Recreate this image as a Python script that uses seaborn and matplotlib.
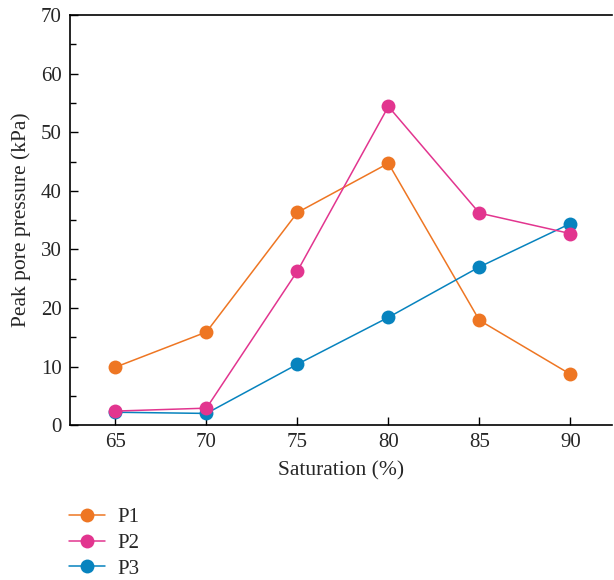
import matplotlib
matplotlib.use("Agg")
import matplotlib.pyplot as plt
from matplotlib.colors import to_hex
from matplotlib.ticker import MultipleLocator
import seaborn as sns
import pandas as pd

saturation = [65, 70, 75, 80, 85, 90]
p1 = [9.9, 15.9, 36.3, 44.7, 17.9, 8.7]
p2 = [2.4, 2.9, 26.3, 54.4, 36.2, 32.7]
p3 = [2.2, 2.0, 10.4, 18.4, 27.0, 34.4]
series_names = ["P1", "P2", "P3"]
colors = ["#EE7623", "#E2358F", "#0783BE"]

df = pd.DataFrame({
    "Saturation": saturation * 3,
    "Pressure": p1 + p2 + p3,
    "Series": [n for n in series_names for _ in saturation],
})

sns.set_style("ticks")
plt.rcParams["font.family"] = ["Liberation Serif", "DejaVu Serif"]

fig = plt.figure(figsize=(6.14, 5.8), dpi=100)
ax = fig.add_axes([0.114, 0.267, 0.883, 0.707])

sns.lineplot(data=df, x="Saturation", y="Pressure", hue="Series",
             palette=colors, marker="o", markersize=10, markeredgewidth=0,
             linewidth=1.1, ax=ax, legend=True)

# stacking: P1 lowest, then P3, with P2 on top where markers overlap
layer = {colors[0].lower(): 2.1, colors[2].lower(): 2.2, colors[1].lower(): 2.3}
for line in ax.lines:
    key = to_hex(line.get_color()).lower()
    if key in layer:
        line.set_zorder(layer[key])

ax.set_xlim(62.5, 92.3)
ax.set_ylim(0, 70)
ax.set_xticks(saturation)
ax.yaxis.set_major_locator(MultipleLocator(10))
ax.yaxis.set_minor_locator(MultipleLocator(5))
ax.tick_params(axis="both", which="both", direction="in", labelsize=15,
               color="black", width=1.0)
ax.tick_params(axis="both", which="major", length=6, pad=6)
ax.tick_params(axis="y", which="minor", length=4)
ax.tick_params(axis="x", which="minor", bottom=False)
for side in ["left", "bottom", "top"]:
    ax.spines[side].set_visible(True)
    ax.spines[side].set_linewidth(1.2)
    ax.spines[side].set_color("black")
ax.spines["right"].set_visible(False)

ax.set_xlabel("Saturation (%)", fontsize=15.5, labelpad=6)
ax.set_ylabel("Peak pore pressure (kPa)", fontsize=15.5, labelpad=7)

handles, labels = ax.get_legend_handles_labels()
ax.legend_.remove()
fig.legend(handles, labels, loc="upper left", bbox_to_anchor=(0.112, 0.125),
           frameon=False, fontsize=15, handlelength=1.75, handletextpad=0.6,
           labelspacing=0.3, borderaxespad=0, borderpad=0)

fig.savefig("out.png", dpi=100)
